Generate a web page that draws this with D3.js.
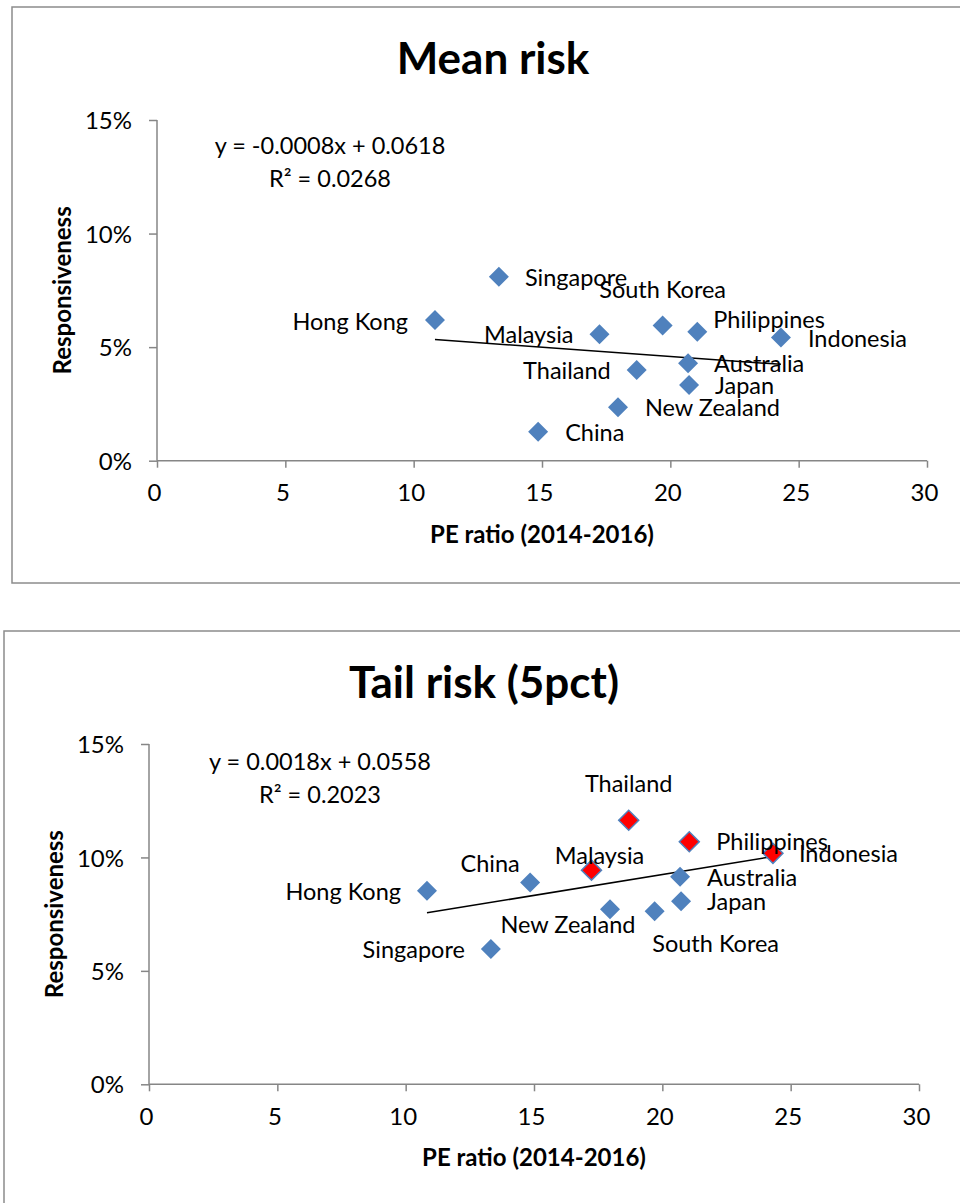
<!DOCTYPE html>
<html>
<head>
<meta charset="utf-8">
<script src="https://cdn.jsdelivr.net/npm/d3@7"></script>
<style>
  html, body { margin: 0; padding: 0; background: #fff; }
  svg { display: block; font-family: Lato, "Open Sans", sans-serif; }
</style>
</head>
<body>
<svg id="chart" width="960" height="1203"></svg>
<script>
// ---------------- DATA ----------------
const countries = ["Singapore", "Hong Kong", "Malaysia", "South Korea", "Philippines", "Indonesia",
                   "Australia", "Thailand", "Japan", "New Zealand", "China"];
const peRatio   = [13.32, 10.83, 17.24, 19.70, 21.05, 24.31, 20.69, 18.69, 20.73, 17.96, 14.85];
const meanRisk  = [0.0810, 0.0620, 0.0557, 0.0595, 0.0568, 0.0542, 0.0429, 0.0399, 0.0333, 0.0235, 0.0128];
const tailRisk  = [0.0596, 0.0853, 0.0944, 0.0763, 0.1069, 0.1018, 0.0915, 0.1164, 0.0807, 0.0772, 0.0890];
const tailHighlighted = ["Malaysia", "Philippines", "Indonesia", "Thailand"];

const xTicks = [0, 5, 10, 15, 20, 25, 30];
const yTicks = [0, 0.05, 0.10, 0.15];

const chartTitles = ["Mean risk", "Tail risk (5pct)"];
const equations = [["y = -0.0008x + 0.0618", "R² = 0.0268"], ["y = 0.0018x + 0.0558", "R² = 0.2023"]];
const xAxisTitle = "PE ratio (2014-2016)";
const yAxisTitle = "Responsiveness";

// ---------------- LAYOUT (not data) ----------------
const layouts = [
  { frame: {x: 12, y: 7, h: 576}, x0: 157, x1: 927, yBottom: 460.7, yTop: 120,
    titleX: 493, eqX: 330, eqDy: [34, 67],
    labels: {
      "Singapore":   ["start", 26, 9],
      "Hong Kong":   ["end", -27, 10],
      "Malaysia":    ["end", -26, 9],
      "South Korea": ["middle", 0, -28],
      "Philippines": ["start", 16, -4],
      "Indonesia":   ["start", 27, 9],
      "Australia":   ["start", 26, 9],
      "Thailand":    ["end", -26, 9],
      "Japan":       ["start", 26, 9],
      "New Zealand": ["start", 27, 9],
      "China":       ["start", 27, 9]
    } },
  { frame: {x: 4, y: 631, h: 700}, x0: 149, x1: 919, yBottom: 1084.3, yTop: 744,
    titleX: 484, eqX: 320, eqDy: [26, 58.7],
    labels: {
      "Singapore":   ["end", -26, 9],
      "Hong Kong":   ["end", -26, 9],
      "Malaysia":    ["middle", 8, -6],
      "South Korea": ["middle", 61, 41],
      "Philippines": ["start", 27, 8],
      "Indonesia":   ["start", 26, 9],
      "Australia":   ["start", 27, 9],
      "Thailand":    ["middle", 0, -28],
      "Japan":       ["start", 26, 9],
      "New Zealand": ["middle", -42, 24],
      "China":       ["middle", -40, -10]
    } }
];

const AXIS = "#868686";
const BLUE = "#4F81BD";

const svg = d3.select("#chart");

function linreg(xs, ys) {
  const mx = d3.mean(xs), my = d3.mean(ys);
  let sxy = 0, sxx = 0;
  xs.forEach((x, i) => { sxy += (x - mx) * (ys[i] - my); sxx += (x - mx) * (x - mx); });
  const m = sxy / sxx;
  return { m, b: my - m * mx };
}

function drawChart(idx, values, highlighted) {
  const L = layouts[idx];
  const g = svg.append("g");

  // frame
  g.append("rect")
    .attr("x", L.frame.x).attr("y", L.frame.y)
    .attr("width", 1100).attr("height", L.frame.h)
    .attr("fill", "#fff").attr("stroke", "#8c8c8c").attr("stroke-width", 1.5);

  const x = d3.scaleLinear().domain([0, 30]).range([L.x0, L.x1]);
  const y = d3.scaleLinear().domain([0, 0.15]).range([L.yBottom, L.yTop]);

  // title
  g.append("text")
    .attr("x", L.titleX).attr("y", L.frame.y + 67)
    .attr("text-anchor", "middle")
    .attr("font-size", 44).attr("font-weight", "bold")
    .text(chartTitles[idx]);

  // y axis
  const yAxis = d3.axisLeft(y).tickValues(yTicks).tickSize(8).tickPadding(17)
    .tickFormat(d3.format(".0%"));
  const ya = g.append("g").attr("transform", `translate(${L.x0},0)`).call(yAxis);
  ya.select(".domain").attr("stroke", AXIS).attr("stroke-width", 1.5).attr("d", `M0,${L.yTop}V${L.yBottom}`);
  ya.selectAll(".tick line").attr("stroke", AXIS).attr("stroke-width", 1.5);
  ya.selectAll(".tick text").attr("font-size", 24).attr("fill", "#000")
    .attr("font-family", "Lato, 'Open Sans', sans-serif")
    .attr("dy", "0.36em");

  // x axis
  const xAxis = d3.axisBottom(x).tickValues(xTicks).tickSize(7).tickPadding(12);
  const xa = g.append("g").attr("transform", `translate(0,${L.yBottom})`).call(xAxis);
  xa.select(".domain").attr("stroke", AXIS).attr("stroke-width", 1.5).attr("d", `M${L.x0},0H${L.x1}`);
  xa.selectAll(".tick line").attr("stroke", AXIS).attr("stroke-width", 1.5);
  xa.selectAll(".tick text").attr("font-size", 24).attr("fill", "#000")
    .attr("font-family", "Lato, 'Open Sans', sans-serif")
    .attr("dx", -3).attr("dy", "0.9em");

  // axis titles
  g.append("text")
    .attr("x", (L.x0 + L.x1) / 2).attr("y", L.yBottom + 82)
    .attr("text-anchor", "middle").attr("font-size", 24).attr("font-weight", "bold")
    .text(xAxisTitle);
  g.append("text")
    .attr("transform", `translate(${L.frame.x + 59},${(L.yTop + L.yBottom) / 2}) rotate(-90)`)
    .attr("text-anchor", "middle").attr("font-size", 24).attr("font-weight", "bold")
    .text(yAxisTitle);

  // equation
  equations[idx].forEach((t, i) => {
    g.append("text")
      .attr("x", L.eqX).attr("y", L.yTop + L.eqDy[i])
      .attr("text-anchor", "middle").attr("font-size", 23.5)
      .text(t);
  });

  const pts = countries.map((c, i) => ({ c, x: peRatio[i], y: values[i], hl: highlighted.includes(c) }));

  // trendline
  const reg = linreg(peRatio, values);
  const xmin = d3.min(peRatio), xmax = d3.max(peRatio);
  g.append("line")
    .attr("x1", x(xmin)).attr("y1", y(reg.m * xmin + reg.b))
    .attr("x2", x(xmax)).attr("y2", y(reg.m * xmax + reg.b))
    .attr("stroke", "#000").attr("stroke-width", 1.5);

  // points
  const sym = d3.symbol().type(d3.symbolSquare).size(200);
  g.selectAll("path.pt").data(pts).join("path")
    .attr("class", "pt")
    .attr("d", sym)
    .attr("transform", d => `translate(${x(d.x)},${y(d.y)}) rotate(45)`)
    .attr("fill", d => d.hl ? "#FF0000" : BLUE)
    .attr("stroke", d => d.hl ? BLUE : "none")
    .attr("stroke-width", 1.5);

  // labels
  g.selectAll("text.lbl").data(pts).join("text")
    .attr("class", "lbl")
    .attr("x", d => x(d.x) + L.labels[d.c][1])
    .attr("y", d => y(d.y) + L.labels[d.c][2])
    .attr("text-anchor", d => L.labels[d.c][0])
    .attr("font-size", 23.5)
    .text(d => d.c);
}

drawChart(0, meanRisk, []);
drawChart(1, tailRisk, tailHighlighted);
</script>
</body>
</html>
